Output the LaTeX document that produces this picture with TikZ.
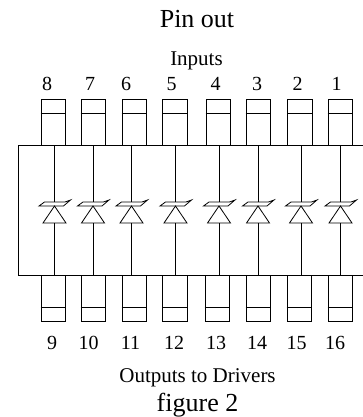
\documentclass[tikz,border=0pt]{standalone}
\usepackage{fontspec}
\setmainfont{Liberation Serif}
\tikzset{
  pinbox/.style={draw,rectangle,inner sep=0pt,minimum width=24.5pt,anchor=south west},
  pinnum/.style={font=\fontsize{20}{22}\selectfont,inner sep=0pt,anchor=base},
  bigtext/.style={font=\fontsize{26}{28}\selectfont,inner sep=0pt,anchor=base},
  smalltext/.style={font=\fontsize{21}{23}\selectfont,inner sep=0pt,anchor=base},
}
\begin{document}
\begin{tikzpicture}[x=1pt,y=-1pt,line width=0.8pt]
  \useasboundingbox (0,0) rectangle (363,417);
  \draw
    (197,27.5) node[bigtext] (title){Pin out}
    (196.5,65.5) node[smalltext] (inputs){Inputs}
    (197.5,382) node[smalltext] (outputs){Outputs to Drivers}
    (197.5,411) node[bigtext] (figname){figure 2};
  % case outline, right side runs off the picture
  \coordinate (bodytl) at (18.5,145.5);
  \coordinate (bodytr) at (363,145.5);
  \coordinate (bodybl) at (18.5,275.5);
  \coordinate (bodybr) at (363,275.5);
  \draw (bodytr) -- (bodytl) -- (bodybl) -- (bodybr);
  % top pins: number, left edge, label x
  \foreach \n/\x/\lx in {8/40.5/47,7/80.5/90,6/121.5/126,5/162/171.5,4/205.5/215.5,3/245.5/257,2/287/297.5,1/327.5/336.5}{
    \node[pinbox,minimum height=46pt] (pin\n) at (\x,145.5) {};
    \coordinate (pin\n m1) at (\x,113.5);
    \coordinate (pin\n m2) at (\x+24.5,113.5);
    \draw (pin\n m1) -- (pin\n m2);
    \node[pinnum] (num\n) at (\lx,90.5) {\n};
  }
  % bottom pins
  \foreach \n/\x/\lx in {9/40.5/52,10/80.5/88.5,11/121.5/130.5,12/162/174,13/204.5/216,14/245.5/257,15/286.5/296.5,16/327.5/335}{
    \node[pinbox,minimum height=46.5pt] (pin\n) at (\x,322) {};
    \coordinate (pin\n m1) at (\x,307.5);
    \coordinate (pin\n m2) at (\x+24.5,307.5);
    \draw (pin\n m1) -- (pin\n m2);
    \node[pinnum] (num\n) at (\lx,349.5) {\n};
  }
  % zener diodes
  \foreach \d/\x in {a/54.5,b/93,c/131.5,d/175.5,e/219,f/258,g/301,h/340.5}{
    \coordinate (top\d) at (\x,145.5);
    \coordinate (bot\d) at (\x,275.5);
    \coordinate (bar\d) at (\x,202);
    \coordinate (apex\d) at (\x,206);
    \coordinate (base\d) at (\x,223);
    \coordinate (tipl\d) at (\x-15.5,206);
    \coordinate (barl\d) at (\x-10,202);
    \coordinate (barr\d) at (\x+10.5,202);
    \coordinate (tipr\d) at (\x+16,200);
    \coordinate (lowr\d) at (\x+9,206);
    \coordinate (basel\d) at (\x-11.5,223);
    \coordinate (baser\d) at (\x+11.5,223);
    \draw (top\d) -- (bar\d);
    \draw (base\d) -- (bot\d);
    \draw (tipl\d) -- (barl\d) -- (barr\d) -- (tipr\d) -- (lowr\d) -- cycle;
    \draw (apex\d) -- (basel\d) -- (baser\d) -- cycle;
  }
\end{tikzpicture}
\end{document}
